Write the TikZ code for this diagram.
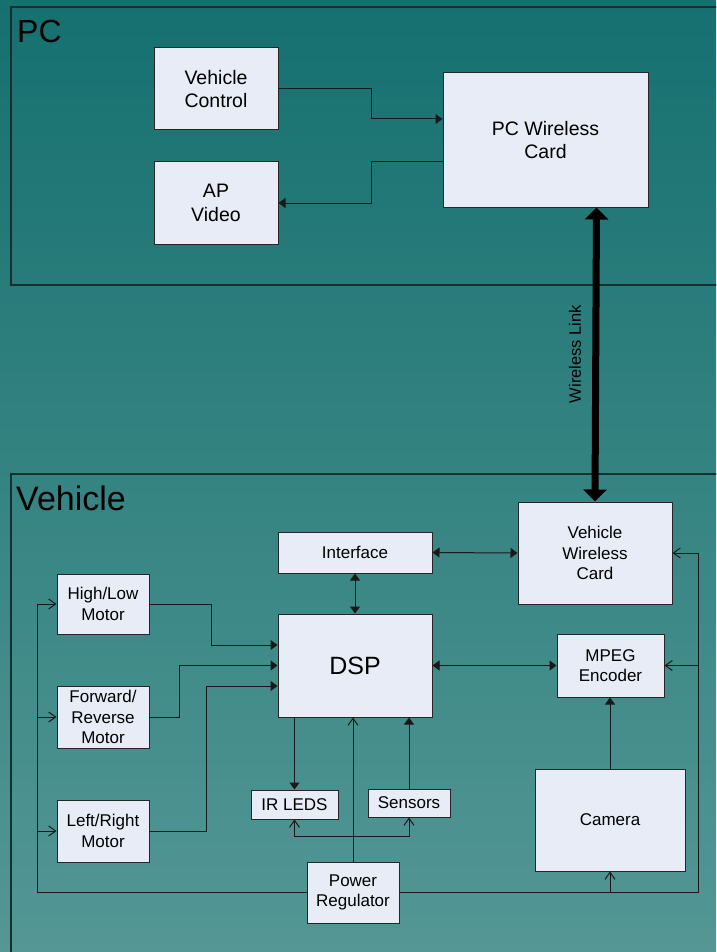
\documentclass[tikz,border=0pt]{standalone}
\usepackage{fontspec}
\setmainfont{Liberation Sans}
\usetikzlibrary{arrows.meta}
\definecolor{boxfill}{RGB}{231,236,247}
\definecolor{bgtop}{RGB}{21,112,111}
\definecolor{bgbot}{RGB}{84,151,149}
\definecolor{framec}{RGB}{22,48,48}
\begin{document}
\begin{tikzpicture}[x=1pt,y=-1pt,
  box/.style={draw=black!85, line width=1pt, fill=boxfill, inner sep=0pt, align=center, font=\fontsize{17}{20.5}\selectfont},
  topbox/.style={box, font=\fontsize{19.5}{23.5}\selectfont},
  ln/.style={line width=1pt, draw=black!90},
  fa/.style={ln, -{Triangle[length=7pt,width=10pt]}},
  fab/.style={ln, {Triangle[length=7pt,width=10pt]}-{Triangle[length=7pt,width=10pt]}},
  oa/.style={ln, -{Straight Barb[length=7pt,width=10pt]}},
  frame/.style={draw=framec, line width=1.5pt},
  biglabel/.style={anchor=base west, inner sep=0pt},
]
\useasboundingbox (0,0) rectangle (716,952);
\clip (0,0) rectangle (716,952);
\shade[top color=bgtop, bottom color=bgbot] (0,0) rectangle (716,952);

% frames
\draw[frame] (11,7) rectangle (730,285);
\draw[frame] (11,474) rectangle (730,970);
\node[biglabel, font=\fontsize{32}{36}\selectfont] (pclabel) at (17,43) {PC};
\node[biglabel, font=\fontsize{34}{38}\selectfont] (vehlabel) at (16,510) {Vehicle};

% PC boxes
\node[topbox, minimum width=124pt, minimum height=82pt] (vc) at (216,89) {Vehicle\\Control};
\node[topbox, minimum width=124pt, minimum height=82pt] (ap) at (216,203) {AP\\Video};
\node[topbox, minimum width=205pt, minimum height=134pt] (pcw) at (545.5,140) {PC Wireless\\Card};

% Vehicle boxes
\node[box, minimum width=154pt, minimum height=41pt] (iface) at (355,552.5) {Interface};
\node[box, minimum width=92pt, minimum height=60pt] (hl) at (103,604) {High/Low\\Motor};
\node[box, minimum width=92pt, minimum height=62pt] (fr) at (103,717) {Forward/\\Reverse\\Motor};
\node[box, minimum width=92pt, minimum height=62pt] (lr) at (103,831) {Left/Right\\Motor};
\node[box, minimum width=154pt, minimum height=103pt, font=\fontsize{25}{28}\selectfont] (dsp) at (355,665.5) {DSP};
\node[box, minimum width=154pt, minimum height=102pt] (vwc) at (595,553) {Vehicle\\Wireless\\Card};
\node[box, minimum width=107pt, minimum height=63pt] (mpeg) at (610.5,665.5) {MPEG\\Encoder};
\node[box, minimum width=87pt, minimum height=29pt] (ir) at (294.5,804.5) {IR LEDS};
\node[box, minimum width=82pt, minimum height=28pt] (sens) at (409,803) {Sensors};
\node[box, minimum width=92pt, minimum height=61pt] (pwr) at (353,892.5) {Power\\Regulator};
\node[box, minimum width=150pt, minimum height=102pt] (cam) at (610,820) {Camera};

% PC connectors
\draw[fa] (vc.east) -- (371,89) |- ([yshift=21pt]pcw.west);
\draw[fa] ([yshift=-22pt]pcw.west) -- (371,162) |- (ap.east);

% wireless link
\draw[line width=7pt, {Triangle[length=12pt,width=23pt]}-{Triangle[length=12pt,width=23pt]}]
  ([xshift=51pt]pcw.south) -- (vwc.north);
\node[rotate=90, font=\fontsize{16.5}{19}\selectfont, inner sep=0pt] (wl) at (575,354) {Wireless Link};

% vehicle connectors
\draw[fab] (iface.east) -- (vwc.west);
\draw[fab] (iface.south) -- (dsp.north);
\draw[fab] (dsp.east) -- (mpeg.west);
\draw[fa] (hl.east) -- (211,604) |- ([yshift=20.5pt]dsp.west);
\draw[fa] (fr.east) -- (179,717) |- (dsp.west);
\draw[fa] (lr.east) -- (206,831) |- ([yshift=-20.5pt]dsp.west);
\draw[fa] ([xshift=-60.5pt]dsp.south) -- (ir.north);
\draw[fa] (sens.north) -- (sens.north |- dsp.south);
\draw[fa] (cam.north) -- (cam.north |- mpeg.south);

% power distribution
\coordinate (j) at (353,836);
\draw[oa] (pwr.north) -- (pwr.north |- dsp.south);
\draw[oa] (j) -| (ir.south);
\draw[oa] (j) -| (sens.south);

\coordinate (bl) at (37,892.5);
\coordinate (br) at (698,892.5);
\draw[ln] (pwr.west) -- (bl) -- (bl |- hl.west);
\draw[oa] (bl |- hl.west) -- (hl.west);
\draw[oa] (bl |- fr.west) -- (fr.west);
\draw[oa] (bl |- lr.west) -- (lr.west);
\draw[ln] (pwr.east) -- (br) -- (br |- vwc.east);
\draw[oa] (br |- vwc.east) -- (vwc.east);
\draw[oa] (br |- mpeg.east) -- (mpeg.east);
\draw[oa] (cam.south |- bl) -- (cam.south);
\end{tikzpicture}
\end{document}
